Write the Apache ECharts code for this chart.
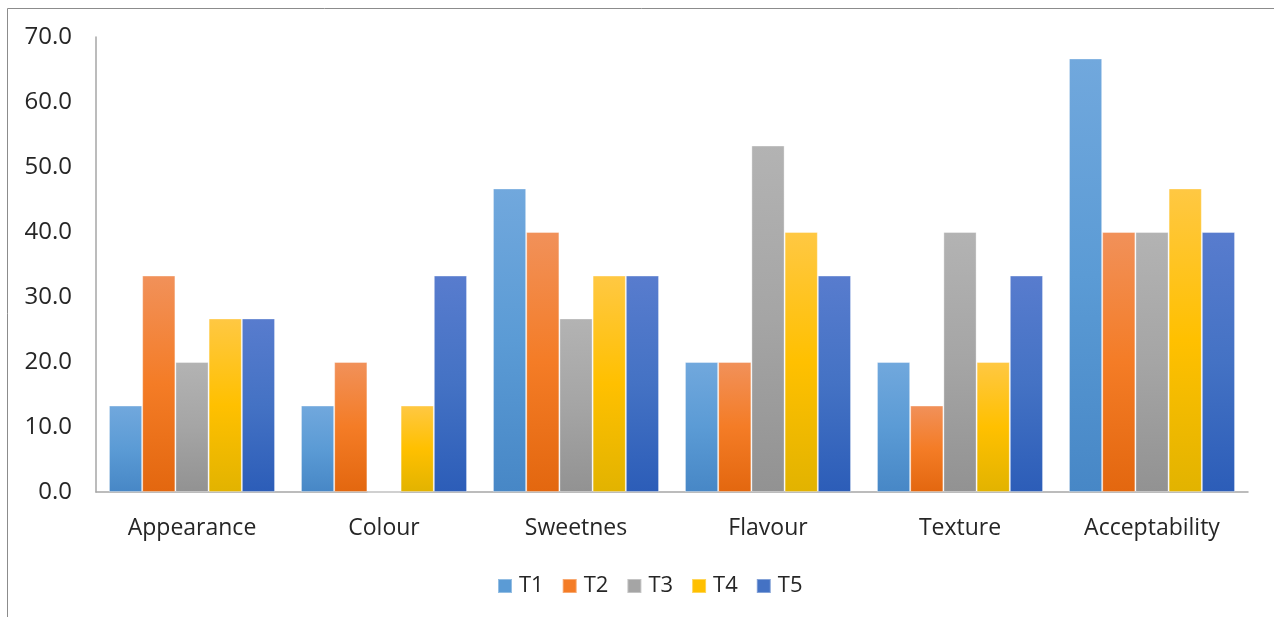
<!DOCTYPE html>
<html><head><meta charset="utf-8">
<script src="https://cdn.jsdelivr.net/npm/echarts@6/dist/echarts.min.js"></script>
<style>html,body{margin:0;padding:0;background:#fff}#c{width:1274px;height:617px}</style>
</head><body><div id="c"></div>
<script>
const categories = ['Appearance','Colour','Sweetnes','Flavour','Texture','Acceptability'];
const seriesNames = ['T1','T2','T3','T4','T5'];
const T1 = [13.3, 13.3, 46.7, 20.0, 20.0, 66.7];
const T2 = [33.3, 20.0, 40.0, 20.0, 13.3, 40.0];
const T3 = [20.0, 0.0, 26.7, 53.3, 40.0, 40.0];
const T4 = [26.7, 13.3, 33.3, 40.0, 20.0, 46.7];
const T5 = [26.7, 33.3, 33.3, 33.3, 33.3, 40.0];
const yTicks = [0,10,20,30,40,50,60,70];

const palettes = [
  ['#71a8dd','#5b9bd5','#4787c6'],
  ['#f1915a','#f47c26','#e3670f'],
  ['#b3b3b3','#a5a5a5','#929292'],
  ['#ffc843','#ffc000','#e2b300'],
  ['#587cce','#4472c4','#2c5db8']
];
const grad = p => new echarts.graphic.LinearGradient(0,0,0,1,[
  {offset:0,color:p[0]},{offset:0.5,color:p[1]},{offset:1,color:p[2]}]);
const data = [T1,T2,T3,T4,T5];
const font = 'Open Sans';
const chart = echarts.init(document.getElementById('c'));
chart.setOption({
  animation:false,
  graphic:[{type:'rect',shape:{x:7.5,y:8.5,width:1400,height:800},style:{fill:'none',stroke:'#8c8c8c',lineWidth:1}}],
  legend:{
    data:seriesNames.map((n,i)=>({name:n,itemStyle:{color:palettes[i][1]}})),
    bottom:15,left:492,itemWidth:14,itemHeight:14,itemGap:18,
    icon:'rect',
    textStyle:{fontFamily:font,fontSize:22,color:'#262626',padding:[0,0,0,2]}
  },
  grid:{left:96,right:26,top:37,bottom:125,containLabel:false},
  xAxis:{
    type:'category',data:categories,
    axisLine:{lineStyle:{color:'#a6a6a6',width:1.5}},
    axisTick:{show:false},
    axisLabel:{fontFamily:font,fontSize:23,color:'#262626',margin:25}
  },
  yAxis:{
    type:'value',min:0,max:70,interval:10,
    axisLine:{show:true,lineStyle:{color:'#a6a6a6',width:1.5}},
    axisTick:{show:false},
    splitLine:{show:false},
    axisLabel:{fontFamily:font,fontSize:24,color:'#262626',margin:24,formatter:v=>v.toFixed(1)}
  },
  series:data.map((d,i)=>({
    name:seriesNames[i],type:'bar',data:d,barGap:'0%',barCategoryGap:'13.5%',
    itemStyle:{color:grad(palettes[i]),borderColor:'rgba(255,255,255,0.35)',borderWidth:1}
  }))
});
</script></body></html>
